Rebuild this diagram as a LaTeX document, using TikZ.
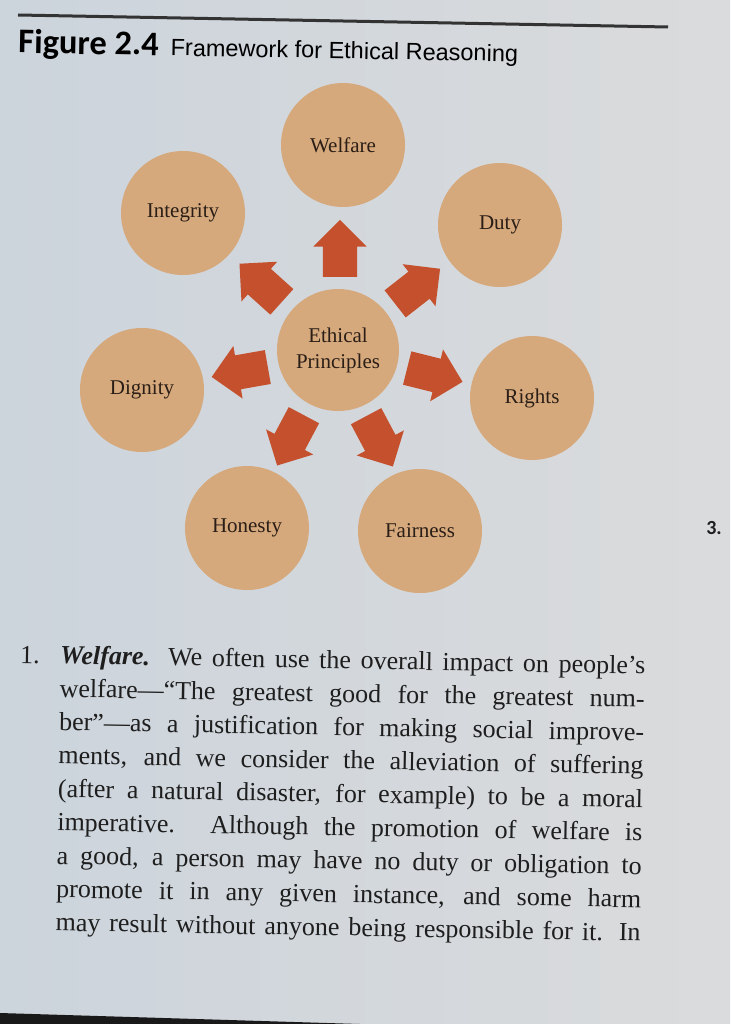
\documentclass[tikz,border=0pt]{standalone}
\usepackage{fontspec}
\usetikzlibrary{shapes.arrows}
\newfontfamily\figfont{Carlito}
\newfontfamily\arialfont{Liberation Sans}
\newfontfamily\serifont{Liberation Serif}
\definecolor{bgl}{HTML}{CCD4DC}
\definecolor{bgr}{HTML}{DADBDC}
\definecolor{tanc}{HTML}{D6A97D}
\definecolor{arrowc}{HTML}{C4502D}
\definecolor{inkc}{HTML}{1E1E1E}
\definecolor{labc}{HTML}{2A1E16}
\newcommand{\jline}[1]{\makebox[585pt][s]{#1}}
\begin{document}
\begin{tikzpicture}[x=1pt,y=-1pt,
  circ/.style={circle, fill=tanc, minimum size=124pt, inner sep=0pt, text=labc,
    font=\serifont\fontsize{21}{26}\selectfont, align=center},
  barrow/.style={single arrow, fill=arrowc, draw=none, inner xsep=0pt, inner ysep=17pt,
    minimum height=57pt, single arrow head extend=9.5pt, anchor=tail}
]
\useasboundingbox (0,0) rectangle (730,1024);
\shade[left color=bgl, right color=bgr] (0,0) rectangle (730,1024);
% top rule
\coordinate (r1) at (18,15);
\coordinate (r2) at (668,27);
\draw[line width=3pt, draw=black!80] (r1) -- (r2);
% title
\node[anchor=base west, inner sep=0pt, rotate=-1, text=black] (title) at (18,53)
  {{\figfont\bfseries\fontsize{34.5}{38}\selectfont Figure 2.4}\hspace{12pt}{\arialfont\fontsize{23.5}{28}\selectfont Framework for Ethical Reasoning}};
% circles
\node[circ] (welfare) at (343,145) {Welfare};
\node[circ] (integrity) at (183,213) {Integrity};
\node[circ] (duty) at (500,225) {Duty};
\node[circ] (dignity) at (142,390) {Dignity};
\node[circ, minimum size=122pt] (ethical) at (338,350) {Ethical\\Principles};
\node[circ] (rights) at (532,398) {Rights};
\node[circ] (honesty) at (247,528) {Honesty};
\node[circ] (fairness) at (420,531) {Fairness};
% block arrows (placed by their tails)
\node[barrow, rotate=90] (aW) at (340,277) {};
\node[barrow, rotate=138] (aI) at (282,302) {};
\node[barrow, rotate=38] (aD) at (395,304) {};
\node[barrow, rotate=190] (aG) at (268,367) {};
\node[barrow, rotate=346] (aR) at (407,368) {};
\node[barrow, rotate=242] (aH) at (304,415) {};
\node[barrow, rotate=298] (aF) at (366,416) {};
% side number
\node[anchor=base, inner sep=0pt, text=inkc, font=\figfont\bfseries\fontsize{20}{24}\selectfont] (three) at (714,534) {3.};
% paragraph
\node[anchor=base west, inner sep=0pt, rotate=-1, text=inkc] (para) at (20,663)
 {\parbox[t]{640pt}{\serifont\fontsize{26}{33.4}\selectfont\raggedright
  \makebox[40pt][l]{1.}\jline{\textbf{\textit{Welfare.}} We often use the overall impact on people’s}\\
  \hspace*{40pt}\jline{welfare—“The greatest good for the greatest num-}\\
  \hspace*{40pt}\jline{ber”—as a justification for making social improve-}\\
  \hspace*{40pt}\jline{ments, and we consider the alleviation of suffering}\\
  \hspace*{40pt}\jline{(after a natural disaster, for example) to be a moral}\\
  \hspace*{40pt}\jline{imperative. Although the promotion of welfare is}\\
  \hspace*{40pt}\jline{a good, a person may have no duty or obligation to}\\
  \hspace*{40pt}\jline{promote it in any given instance, and some harm}\\
  \hspace*{40pt}\jline{may result without anyone being responsible for it. In}}};
% bottom bezel
\coordinate (b1) at (0,1013);
\coordinate (b2) at (360,1024);
\coordinate (b3) at (0,1024);
\fill[black!90] (b1) -- (b2) -- (b3) -- cycle;
\end{tikzpicture}
\end{document}
